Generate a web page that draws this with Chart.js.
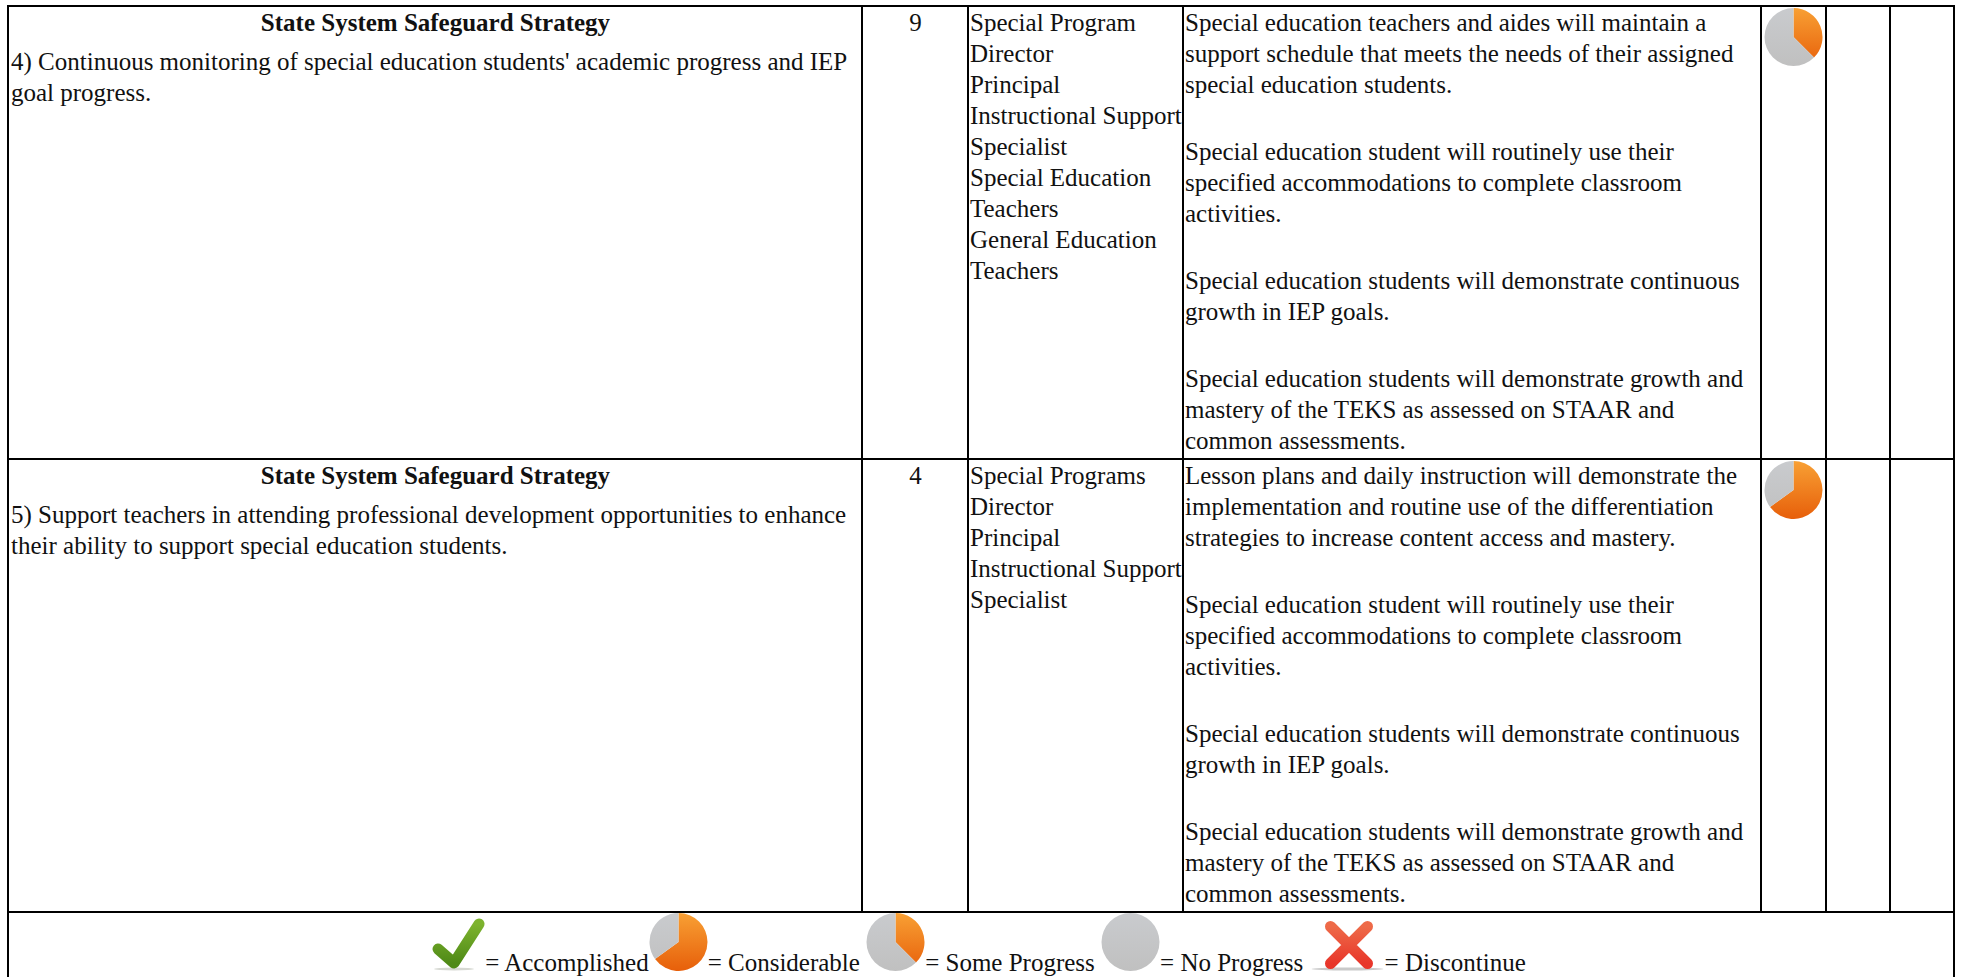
<!DOCTYPE html>
<html lang="en">
<head>
<meta charset="UTF-8">
<title>State System Safeguard Strategy</title>
<script src="https://cdn.jsdelivr.net/npm/chart.js"></script>
<style>
  html, body { margin: 0; padding: 0; background: #fff; overflow: hidden; }
  body { width: 1963px; height: 977px; position: relative; font: 25px/31px "Liberation Serif", serif; color: #111; }
  table { position: absolute; left: 7px; top: 5px; border-collapse: collapse; table-layout: fixed; width: 1948px; }
  td { border: 2px solid #000; padding: 0 0 0 1px; vertical-align: top; white-space: nowrap; overflow: visible; }
  .head { font-weight: bold; text-align: center; margin-bottom: 8px; }
  .num { text-align: center; }
  .measure p { margin: 0 0 36px 0; }
  .measure p:last-child { margin-bottom: 0; }
  .strategy { margin-left: 1px; }
  tr.row td { height: 451px; }
  .pie { display: inline-block; position: relative; }
  .pie canvas { filter: blur(0.6px); }
  .cellpie { margin: 1px 0 0 1px; display: block; }
  .key { text-align: center; height: 70px; padding: 0 4px 0 0; }
  .key svg { display: inline-block; vertical-align: baseline; }
</style>
</head>
<body>
<table>
  <colgroup><col style="width:854px"><col style="width:106px"><col style="width:215px"><col style="width:578px"><col style="width:65px"><col style="width:64px"><col style="width:64px"></colgroup>
  <tbody id="rows"></tbody>
</table>

<script>
// table text
const heading = 'State System Safeguard Strategy';
const strategies = [
  ["4) Continuous monitoring of special education students' academic progress and IEP", 'goal progress.'],
  ['5) Support teachers in attending professional development opportunities to enhance', 'their ability to support special education students.']
];
const months = ['9', '4'];
const staff = [
  ['Special Program', 'Director', 'Principal', 'Instructional Support', 'Specialist', 'Special Education', 'Teachers', 'General Education', 'Teachers'],
  ['Special Programs', 'Director', 'Principal', 'Instructional Support', 'Specialist']
];
const measures1 = [
  ['Special education teachers and aides will maintain a', 'support schedule that meets the needs of their assigned', 'special education students.'],
  ['Special education student will routinely use their', 'specified accommodations to complete classroom', 'activities.'],
  ['Special education students will demonstrate continuous', 'growth in IEP goals.'],
  ['Special education students will demonstrate growth and', 'mastery of the TEKS as assessed on STAAR and', 'common assessments.']
];
const measures2 = [
  ['Lesson plans and daily instruction will demonstrate the', 'implementation and routine use of the differentiation', 'strategies to increase content access and mastery.'],
  ['Special education student will routinely use their', 'specified accommodations to complete classroom', 'activities.'],
  ['Special education students will demonstrate continuous', 'growth in IEP goals.'],
  ['Special education students will demonstrate growth and', 'mastery of the TEKS as assessed on STAAR and', 'common assessments.']
];

// pie values, share of the circle: [orange, grey]
const sliceNames = ['Done', 'Remaining'];
const someProgress = [37.5, 62.5];
const considerable = [65, 35];
const noProgress = [0, 100];
const rowProgress = [someProgress, considerable];

// legend words
const keyAccomplished = '= Accomplished';
const keyConsiderable = '= Considerable';
const keySome = '= Some Progress';
const keyNone = '= No Progress';
const keyDiscontinue = '= Discontinue';

function lines(arr) {
  return arr.join('<br>');
}

function buildTable() {
  let html = '';
  const measures = [measures1, measures2];
  for (let i = 0; i < 2; i++) {
    html += '<tr class="row">';
    html += '<td><div class="head">' + heading + '</div><div class="strategy">' + lines(strategies[i]) + '</div></td>';
    html += '<td class="num">' + months[i] + '</td>';
    html += '<td>' + lines(staff[i]) + '</td>';
    html += '<td class="measure">' + measures[i].map(m => '<p>' + lines(m) + '</p>').join('') + '</td>';
    html += '<td><span class="pie cellpie" id="rowPie' + i + '"></span></td><td></td><td></td></tr>';
  }
  // the icons sit right against their "=" text, as in the original, so only some gaps have a space
  html += '<tr><td colspan="7" class="key">'
    + '<svg width="53" height="56" viewBox="0 0 53 56"><defs><linearGradient id="green" x1="0" y1="0" x2="0" y2="1"><stop offset="0" stop-color="#7db32e"/><stop offset="1" stop-color="#4f8a17"/></linearGradient></defs>'
    + '<ellipse cx="22" cy="54" rx="20" ry="1.5" fill="#d6d8d2"/>'
    + '<path d="M6 34 L22 48 L47 9" fill="none" stroke="url(#green)" stroke-width="11" stroke-linecap="round" stroke-linejoin="round"/></svg>'
    + keyAccomplished + '<span class="pie" id="keyPie0"></span>' + keyConsiderable + ' <span class="pie" id="keyPie1"></span>'
    + keySome + ' <span class="pie" id="keyPie2"></span>' + keyNone + ' '
    + '<svg width="75" height="58" viewBox="0 0 75 58"><defs><linearGradient id="red" x1="0" y1="0" x2="0" y2="1"><stop offset="0" stop-color="#ee6a48"/><stop offset="1" stop-color="#e8362a"/></linearGradient></defs>'
    + '<ellipse cx="37.5" cy="56" rx="36" ry="1.5" fill="#c9c9c9"/>'
    + '<path d="M20.5 13.5 L57.5 50.5 M57.5 13.5 L20.5 50.5" fill="none" stroke="url(#red)" stroke-width="11" stroke-linecap="round"/></svg>'
    + keyDiscontinue + '</td></tr>';
  document.getElementById('rows').innerHTML = html;
}

// orange for the first slice, grey for the second, both shaded top to bottom
function sliceFill(context) {
  const area = context.chart.chartArea;
  const isOrange = context.dataIndex === 0;
  if (!area) return isOrange ? '#ee7a14' : '#c6c7c9';
  const g = context.chart.ctx.createLinearGradient(0, area.top, 0, area.bottom);
  g.addColorStop(0, isOrange ? '#f8a034' : '#c9cbce');
  g.addColorStop(1, isOrange ? '#e75f0a' : '#c0c0c0');
  return g;
}

function drawPie(holderId, values) {
  const holder = document.getElementById(holderId);
  holder.style.width = '59px';
  holder.style.height = '58px';
  const canvas = document.createElement('canvas');
  canvas.width = 59;
  canvas.height = 58;
  holder.appendChild(canvas);
  new Chart(canvas, {
    type: 'pie',
    data: {
      labels: sliceNames,
      datasets: [{ data: values, backgroundColor: sliceFill, borderWidth: 0 }]
    },
    options: {
      responsive: false,
      animation: false,
      layout: { padding: 0 },
      plugins: { legend: { display: false }, tooltip: { enabled: false } }
    }
  });
}

buildTable();
rowProgress.forEach((values, i) => drawPie('rowPie' + i, values));
drawPie('keyPie0', considerable);
drawPie('keyPie1', someProgress);
drawPie('keyPie2', noProgress);
</script>
</body>
</html>
